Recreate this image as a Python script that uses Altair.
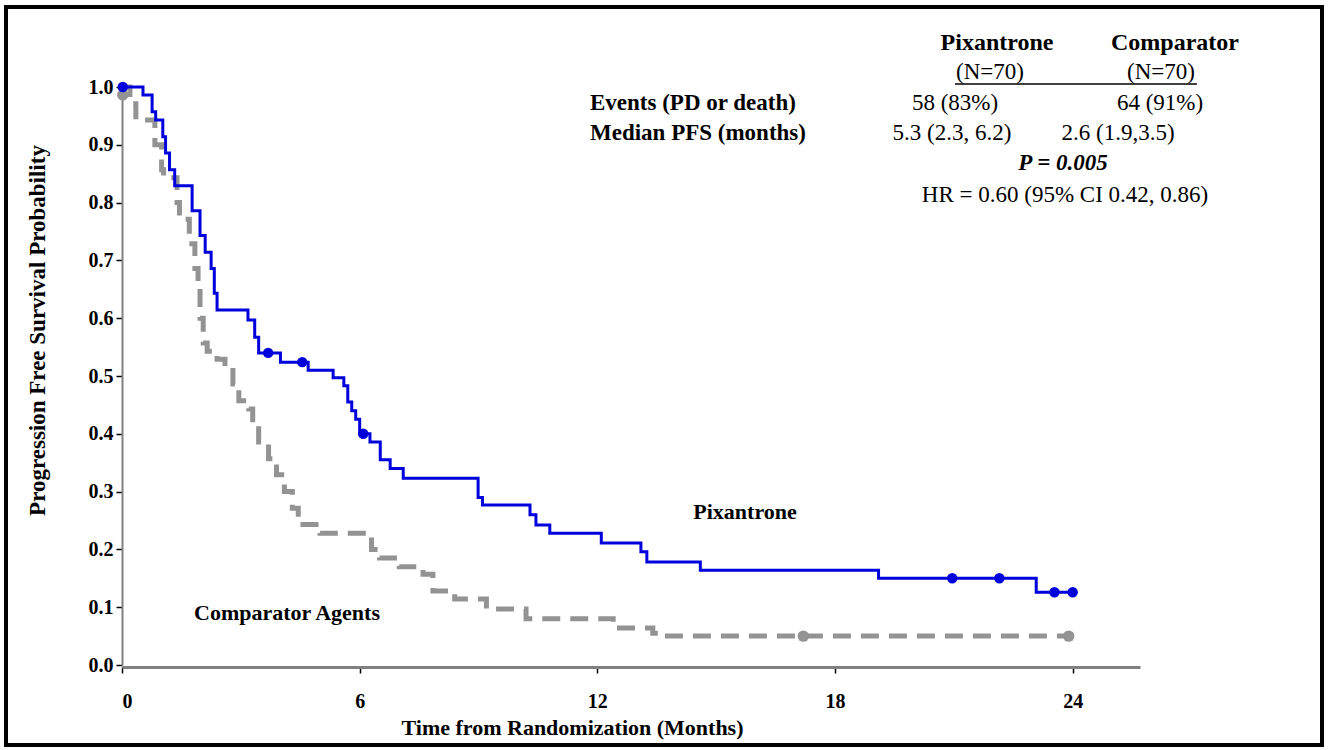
import altair as alt
import pandas as pd

# ---- data ----
pix_t = [0, 0.53, 0.76, 0.85, 1.03, 1.1, 1.2, 1.33, 1.77, 1.97, 2.1, 2.25, 2.33, 2.4,
         3.18, 3.35, 3.45, 4.0, 4.7, 5.33, 5.6, 5.7, 5.8, 5.9, 6.0, 6.26, 6.52, 6.77,
         7.1, 8.99, 9.1, 10.3, 10.45, 10.8, 12.1, 13.1, 13.25, 14.6, 19.1, 23.08, 24.0]
pix_s = [1.0, 0.986, 0.957, 0.943, 0.914, 0.886, 0.857, 0.829, 0.786, 0.743, 0.714, 0.686, 0.643, 0.614,
         0.597, 0.567, 0.54, 0.524, 0.51, 0.497, 0.483, 0.455, 0.44, 0.425, 0.40, 0.386, 0.355, 0.34,
         0.323, 0.29, 0.277, 0.26, 0.242, 0.228, 0.211, 0.196, 0.178, 0.164, 0.15, 0.126, 0.126]

cmp_t = [0, 0.2, 0.35, 0.83, 1.0, 1.05, 1.39, 1.45, 1.7, 1.84, 1.92, 1.97, 2.05, 2.15,
         2.4, 2.6, 2.8, 2.95, 3.2, 3.3, 3.45, 3.7, 3.9, 4.1, 4.3, 4.45, 5.0, 6.3, 6.5,
         7.0, 7.6, 7.85, 8.4, 9.2, 10.2, 12.4, 13.4, 13.6, 24.0]
cmp_s = [1.0, 0.971, 0.943, 0.9, 0.857, 0.843, 0.8, 0.771, 0.729, 0.686, 0.657, 0.6, 0.557, 0.543,
         0.529, 0.514, 0.486, 0.457, 0.443, 0.414, 0.386, 0.357, 0.329, 0.3, 0.271, 0.243, 0.228, 0.2, 0.185,
         0.17, 0.157, 0.128, 0.114, 0.097, 0.08, 0.064, 0.055, 0.05, 0.05]

pix_cens_t = [0.02, 3.69, 4.55, 6.09, 20.96, 22.15, 23.54, 24.0]
pix_cens_s = [1.0, 0.54, 0.524, 0.40, 0.15, 0.15, 0.126, 0.126]
cmp_cens_t = [0.02, 17.2, 23.9]
cmp_cens_s = [0.986, 0.05, 0.05]

x_ticks = [0, 6, 12, 18, 24]
y_ticks = [0.0, 0.1, 0.2, 0.3, 0.4, 0.5, 0.6, 0.7, 0.8, 0.9, 1.0]

x_title = "Time from Randomization (Months)"
y_title = "Progression Free Survival Probability"
head_pix = "Pixantrone"
head_cmp = "Comparator"
n_label = "(N=70)"
row1_label = "Events (PD or death)"
row1_pix = "58 (83%)"
row1_cmp = "64 (91%)"
row2_label = "Median PFS (months)"
row2_pix = "5.3 (2.3, 6.2)"
row2_cmp = "2.6 (1.9,3.5)"
p_text = "P = 0.005"
hr_text = "HR = 0.60 (95% CI 0.42, 0.86)"
curve_pix = "Pixantrone"
curve_cmp = "Comparator Agents"

# ---- layout ----
OX, OY = 122, 87          # plot origin in the page
W, H = 1018, 578
SERIF = "Liberation Serif"
BLUE = "#0000dd"
GREY = "#939393"
TS = 23                   # table font size

pix_df = pd.DataFrame({"t": pix_t, "s": pix_s})
cmp_df = pd.DataFrame({"t": cmp_t, "s": cmp_s})
pix_c = pd.DataFrame({"t": pix_cens_t, "s": pix_cens_s})
cmp_c = pd.DataFrame({"t": cmp_cens_t, "s": cmp_cens_s})
one = pd.DataFrame({"a": [0]})

xs = alt.Scale(domain=[0, 25.7], nice=False, zero=False)
ys = alt.Scale(domain=[0, 1], nice=False)

x_axis = alt.Axis(values=x_ticks, format="d", grid=False, domainColor="#808080", domainWidth=3,
                  tickColor="black", tickSize=6, tickWidth=1.5, offset=2,
                  labelFont=SERIF, labelFontWeight="bold", labelFontSize=20, labelColor="black",
                  labelPadding=18, title=x_title, titleFont=SERIF, titleFontWeight="bold",
                  titleFontSize=22, titleColor="black", titleX=450, titleY=60,
                  titleBaseline="middle")
y_axis = alt.Axis(values=y_ticks, format=".1f", grid=False, domainColor="#808080", domainWidth=2,
                  tickColor="black", tickSize=6, tickWidth=1.5,
                  labelFont=SERIF, labelFontWeight="bold", labelFontSize=20, labelColor="black",
                  labelPadding=3, title=y_title, titleFont=SERIF, titleFontWeight="bold",
                  titleFontSize=23, titleColor="black", titleX=-85, titleY=243,
                  titleBaseline="middle", titleAngle=270)

cmp_line = alt.Chart(cmp_df).mark_line(interpolate="step-after", color=GREY, strokeWidth=5,
                                       strokeDash=[18, 10]).encode(
    x=alt.X("t:Q", scale=xs, axis=x_axis),
    y=alt.Y("s:Q", scale=ys, axis=y_axis))
pix_line = alt.Chart(pix_df).mark_line(interpolate="step-after", color=BLUE, strokeWidth=3).encode(
    x=alt.X("t:Q", scale=xs), y=alt.Y("s:Q", scale=ys))
pix_pts = alt.Chart(pix_c).mark_point(filled=True, color=BLUE, size=110, opacity=1).encode(
    x=alt.X("t:Q", scale=xs), y=alt.Y("s:Q", scale=ys))
cmp_pts = alt.Chart(cmp_c).mark_point(filled=True, color=GREY, size=130, opacity=1).encode(
    x=alt.X("t:Q", scale=xs), y=alt.Y("s:Q", scale=ys))


def label(text, px, py, size=TS, weight="normal", style="normal", align="center"):
    return alt.Chart(one).mark_text(text=text, font=SERIF, fontSize=size, fontWeight=weight,
                                    fontStyle=style, align=align, baseline="middle",
                                    color="black").encode(x=alt.value(px - OX), y=alt.value(py - OY))


texts = [
    label(head_pix, 997, 43, 24, "bold"),
    label(head_cmp, 1175, 43, 24, "bold"),
    label(n_label, 990, 72),
    label(n_label, 1161, 72),
    label(row1_label, 590, 103, weight="bold", align="left"),
    label(row1_pix, 955, 103),
    label(row1_cmp, 1160, 103),
    label(row2_label, 590, 133, weight="bold", align="left"),
    label(row2_pix, 952, 133),
    label(row2_cmp, 1118, 133),
    label(p_text, 1063, 163, weight="bold", style="italic"),
    label(hr_text, 1065, 195),
    label(curve_pix, 745, 512, 22, "bold"),
    label(curve_cmp, 287, 613, 22, "bold"),
]

underline = alt.Chart(one).mark_rule(color="black", strokeWidth=1.5).encode(
    x=alt.value(955 - OX), x2=alt.value(1197 - OX), y=alt.value(84 - OY))

frame = alt.Chart(one).mark_rect(fillOpacity=0, stroke="black", strokeWidth=4).encode(
    x=alt.value(6 - OX), x2=alt.value(1322 - OX), y=alt.value(7 - OY), y2=alt.value(745 - OY))

chart = alt.layer(cmp_line, pix_line, cmp_pts, pix_pts, underline, frame, *texts).properties(
    width=W, height=H, autosize="none",
    padding={"left": OX, "top": OY, "right": 1328 - OX - W, "bottom": 750 - OY - H},
    background="white",
).configure_view(strokeWidth=0)

chart.save("out.html", embed_options={"renderer": "svg", "actions": False})
